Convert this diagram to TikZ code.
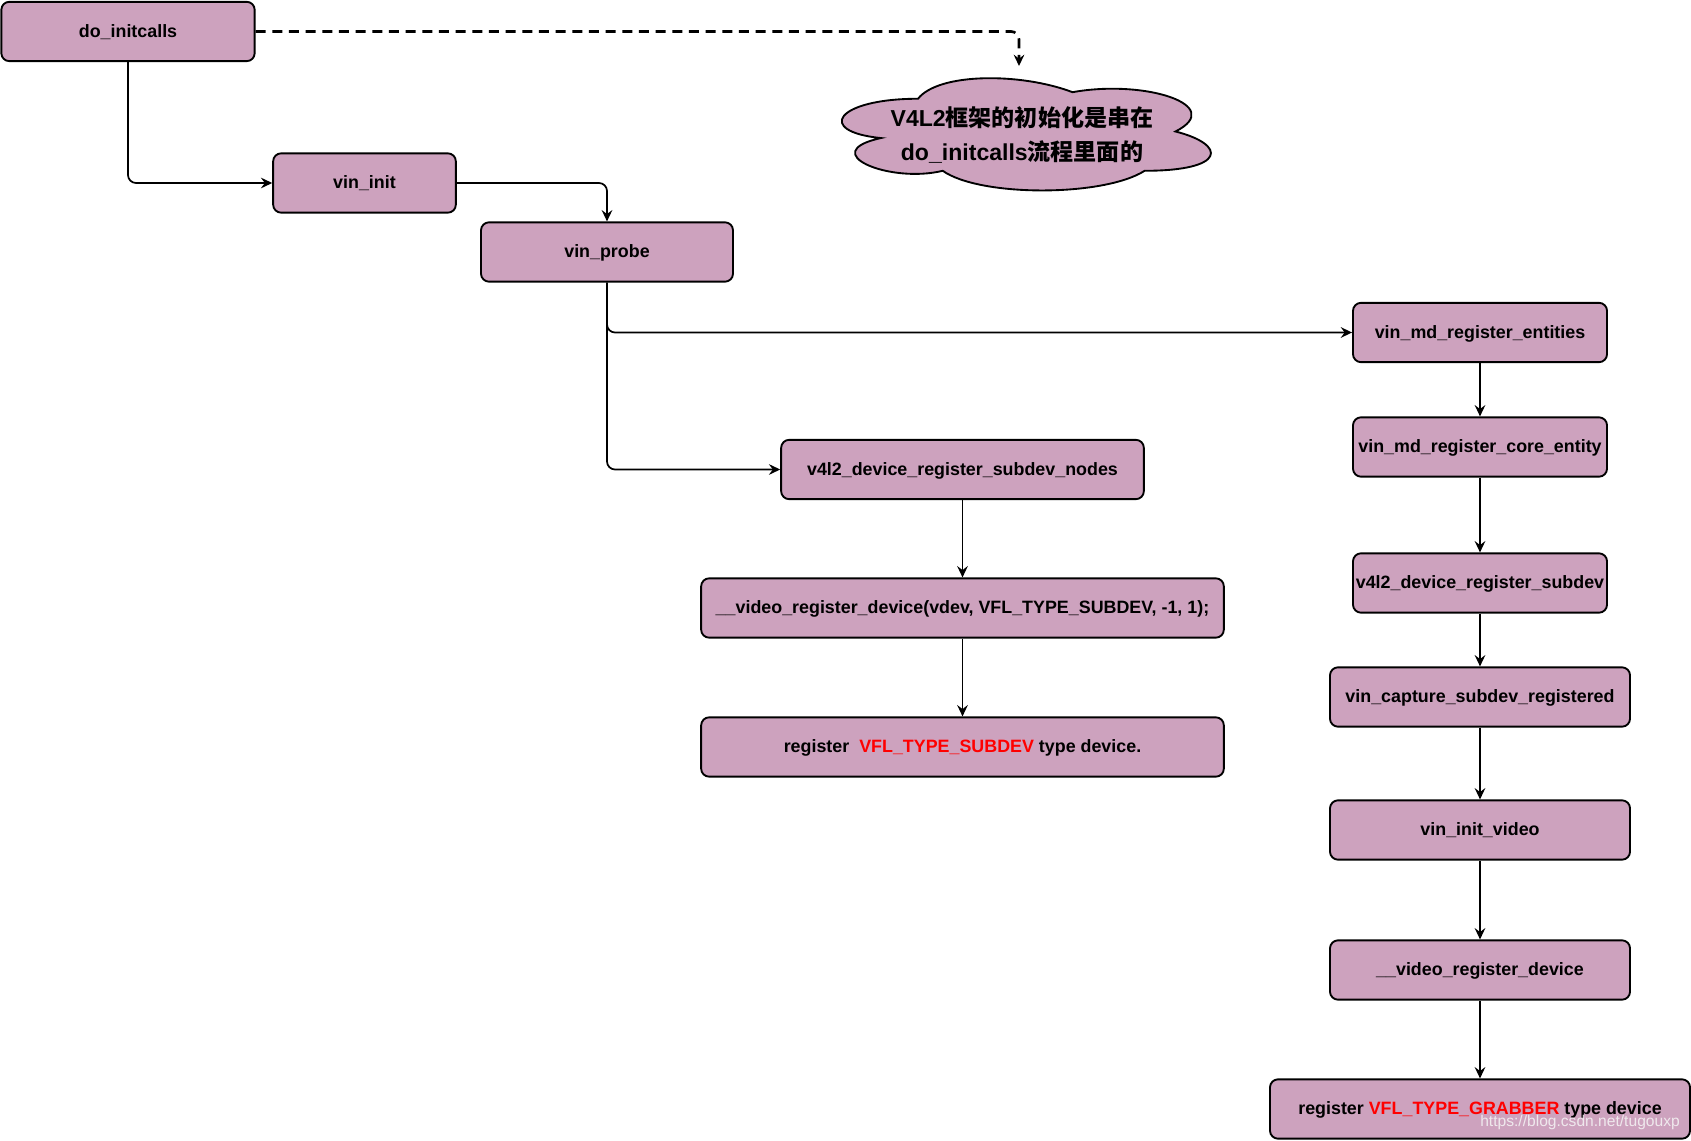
\documentclass[tikz,border=0pt]{standalone}
\usepackage{fontspec}
\setmainfont{Liberation Sans}
\newfontfamily\cjk{Noto Sans CJK SC}
\usetikzlibrary{arrows.meta}

\definecolor{boxfill}{HTML}{CDA2BE}
\tikzset{
  fn/.style={draw=black, line width=1.4pt, fill=boxfill, rounded corners=6pt,
    inner sep=0pt, minimum height=44.5pt, text height=10pt, text depth=1.5pt,
    font=\fontsize{13.4}{16}\selectfont\bfseries},
  call/.style={draw, line width=1.3pt, rounded corners=6pt,
    -{Stealth[length=8.5pt,width=8pt,inset=3pt]}},
}

\begin{document}
\begin{tikzpicture}[x=0.75pt,y=0.75pt,yscale=-1,xscale=1]
\useasboundingbox (0,0) rectangle (1691,1141);

% left part of the call chain
\node [fn, minimum width=190pt] (initcalls) at (128,31.5) {do\_initcalls};
\node [fn, minimum width=137pt] (vininit) at (364.5,183) {vin\_init};
\node [fn, minimum width=189pt] (probe) at (607,252) {vin\_probe};

% subdev nodes
\node [fn, minimum width=272pt] (nodes) at (962.5,469.5) {v4l2\_device\_register\_subdev\_nodes};
\node [fn, minimum width=392pt] (vdev) at (962.5,608) {\_\_video\_register\_device(vdev, VFL\_TYPE\_SUBDEV, -1, 1);};
\node [fn, minimum width=392pt] (subtype) at (962.5,747) {register \ \textcolor{red}{VFL\_TYPE\_SUBDEV} type device.};

% media entities
\node [fn, minimum width=190.5pt] (entities) at (1480,332.5) {vin\_md\_register\_entities};
\node [fn, minimum width=190.5pt] (core) at (1480,447) {vin\_md\_register\_core\_entity};
\node [fn, minimum width=190.5pt] (subdev) at (1480,583) {v4l2\_device\_register\_subdev};
\node [fn, minimum width=225pt] (capture) at (1480,697) {vin\_capture\_subdev\_registered};
\node [fn, minimum width=225pt] (video) at (1480,830) {vin\_init\_video};
\node [fn, minimum width=225pt] (vregister) at (1480,970) {\_\_video\_register\_device};
\node [fn, minimum width=315pt] (grabber) at (1480,1109) {register \textcolor{red}{VFL\_TYPE\_GRABBER} type device};

% note cloud
\begin{scope}[shift={(815,66)}, x=3.09pt, y=0.9825pt]
  \draw [line width=1.4pt, fill=boxfill] (25,25) .. controls (5,25) and (0,50) .. (16,55)
    .. controls (0,66) and (18,90) .. (31,80) .. controls (40,100) and (70,100) .. (80,80)
    .. controls (100,80) and (100,60) .. (87.5,50) .. controls (100,30) and (80,10) .. (62.5,20)
    .. controls (50,5) and (30,5) .. (25,25) -- cycle;
\end{scope}
\node [align=center, font=\fontsize{17.3}{25.5}\selectfont\bfseries] (note) at (1022,135)
  {V4L2{\cjk 框架的初始化是串在}\\do\_initcalls{\cjk 流程里面的}};
\coordinate (cloudtop) at (1019,66);

\draw [call] (initcalls.south) |- (vininit.west);
\draw [call] (vininit.east) -| (probe.north);
\draw [call] (probe.south) |- (entities.west);
\draw [call] (probe.south) |- (nodes.west);
\draw [call, line width=2pt, dash pattern=on 7.5pt off 5pt] (initcalls.east) -| (cloudtop);

\foreach \a/\b in {nodes/vdev, vdev/subtype, entities/core, core/subdev, subdev/capture,
  capture/video, video/vregister, vregister/grabber}
  \draw [call] (\a.south) -- (\b.north);

\node [text=white!92!gray, opacity=0.85, font=\fontsize{11.7}{14}\selectfont] (mark) at (1580,1122) {https://blog.csdn.net/tugouxp};

\end{tikzpicture}
\end{document}
